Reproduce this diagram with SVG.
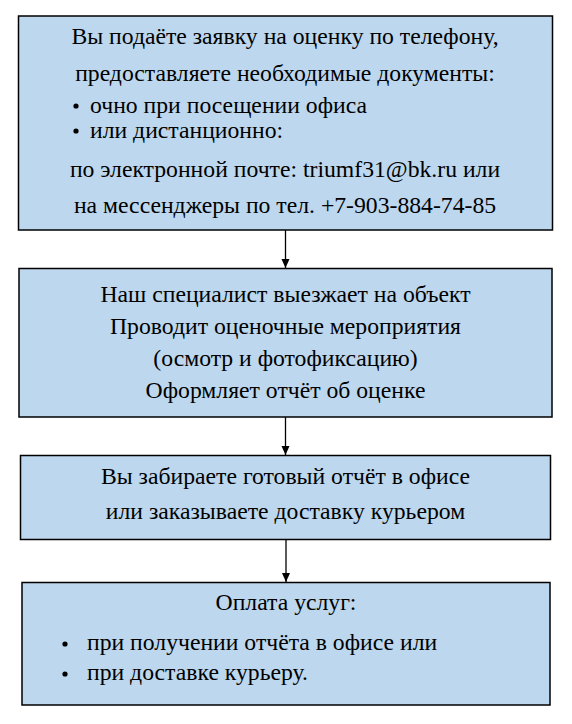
<svg xmlns="http://www.w3.org/2000/svg" width="572" height="724" viewBox="0 0 572 724">
<style>
.box{fill:#bdd7ee;stroke:#000;stroke-width:1.5}
.t{font-family:"Liberation Serif","Times New Roman",serif;font-size:23.7px;fill:#000}
.c{text-anchor:middle}
.conn{stroke:#000;stroke-width:1.3;fill:none}
</style>
<defs>
<marker id="ah" markerWidth="10" markerHeight="10" refX="9" refY="5" orient="auto" markerUnits="userSpaceOnUse">
<path d="M0,1 L9,5 L0,9 Z" fill="#000"/>
</marker>
</defs>
<rect width="572" height="724" fill="#fff"/>
<g id="node1">
<rect class="box" x="18.5" y="16" width="534" height="214"/>
<text class="t c" x="285" y="44">Вы подаёте заявку на оценку по телефону,</text>
<text class="t c" x="285" y="81">предоставляете необходимые документы:</text>
<circle cx="76" cy="106" r="2.6"/>
<text class="t" x="90" y="113">очно при посещении офиса</text>
<circle cx="76" cy="131" r="2.6"/>
<text class="t" x="90" y="138">или дистанционно:</text>
<text class="t c" x="285" y="177">по электронной почте: triumf31@bk.ru или</text>
<text class="t c" x="285" y="213">на мессенджеры по тел. +7-903-884-74-85</text>
</g>
<g id="node2">
<rect class="box" x="19" y="268.5" width="533" height="148.5"/>
<text class="t c" x="285.5" y="302">Наш специалист выезжает на объект</text>
<text class="t c" x="285.5" y="334">Проводит оценочные мероприятия</text>
<text class="t c" x="285.5" y="366">(осмотр и фотофиксацию)</text>
<text class="t c" x="285.5" y="398">Оформляет отчёт об оценке</text>
</g>
<g id="node3">
<rect class="box" x="20.5" y="455.5" width="530" height="84"/>
<text class="t c" x="285.5" y="484">Вы забираете готовый отчёт в офисе</text>
<text class="t c" x="285.5" y="519">или заказываете доставку курьером</text>
</g>
<g id="node4">
<rect class="box" x="22" y="582.5" width="528" height="122.5"/>
<text class="t c" x="286" y="610">Оплата услуг:</text>
<circle cx="65" cy="644" r="2.6"/>
<text class="t" x="87" y="650">при получении отчёта в офисе или</text>
<circle cx="65" cy="674" r="2.6"/>
<text class="t" x="87" y="680">при доставке курьеру.</text>
</g>
<g id="connectors">
<line class="conn" x1="285.5" y1="230" x2="285.5" y2="268" marker-end="url(#ah)"/>
<line class="conn" x1="285.5" y1="417" x2="285.5" y2="455" marker-end="url(#ah)"/>
<line class="conn" x1="286" y1="539.5" x2="286" y2="582" marker-end="url(#ah)"/>
</g>
</svg>
